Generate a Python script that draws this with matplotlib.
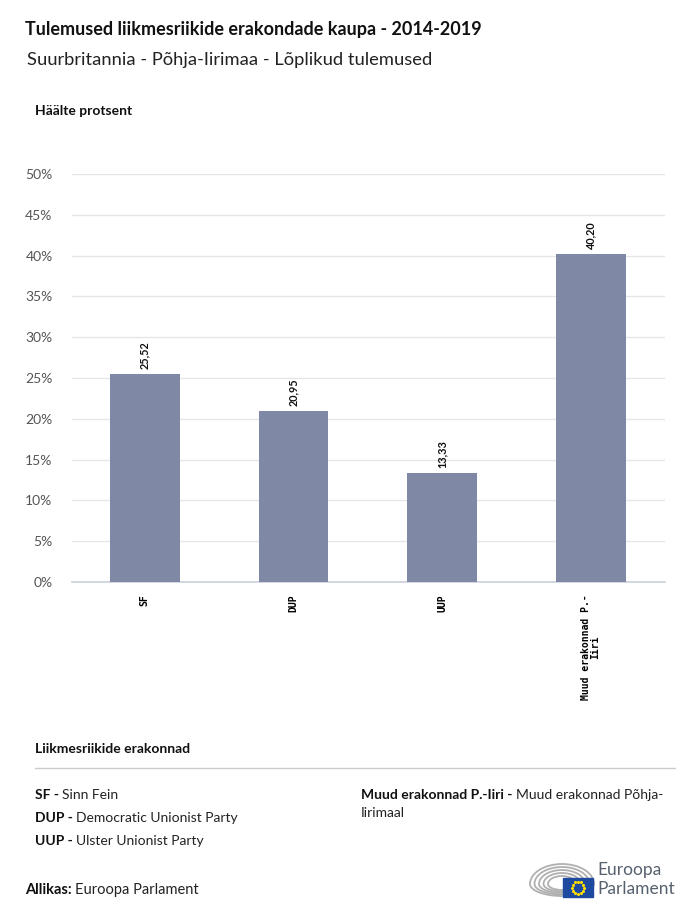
import matplotlib
matplotlib.use('Agg')
import matplotlib.pyplot as plt
from matplotlib.patches import Rectangle, Arc
import numpy as np

parties = ['SF', 'DUP', 'UUP', 'Muud erakonnad P.-\nIiri']
values = [25.52, 20.95, 13.33, 40.20]
value_labels = ['25,52', '20,95', '13,33', '40,20']
y_ticks = [0, 5, 10, 15, 20, 25, 30, 35, 40, 45, 50]

legend_left = [('SF - ', 'Sinn Fein'),
               ('DUP - ', 'Democratic Unionist Party'),
               ('UUP - ', 'Ulster Unionist Party')]
legend_right = [('Muud erakonnad P.-Iiri - ', 'Muud erakonnad Põhja-\nIirimaal')]

FONT = 'Lato'
BAR_COLOR = '#7f88a4'
W, H = 700, 916

fig = plt.figure(figsize=(W / 100, H / 100), dpi=100)
ax = fig.add_axes([72 / W, 1 - 582 / H, (665 - 72) / W, (582 - 174) / H])

x = np.arange(len(parties))
ax.bar(x, values, width=0.47, color=BAR_COLOR, zorder=3)
ax.set_xlim(-0.49, 3.5)
ax.set_ylim(0, 50)
ax.set_yticks(y_ticks)
ax.set_yticklabels([f'{t}%' for t in y_ticks], fontsize=10, color='#555555', family=FONT)
ax.set_xticks(x)
ax.set_xticklabels(parties, rotation=90, fontsize=7, family='DejaVu Sans Mono',
                   fontweight='bold', va='top', ha='center', linespacing=0.9)
ax.tick_params(axis='both', length=0)
ax.tick_params(axis='y', pad=14)
ax.tick_params(axis='x', pad=9)
ax.grid(axis='y', color='#e6e6e6', linewidth=1, zorder=0)
for s in ['top', 'right', 'left']:
    ax.spines[s].set_visible(False)
ax.spines['bottom'].set_color('#c9cfdb')
ax.spines['bottom'].set_linewidth(1.2)

for xi, v, lbl in zip(x, values, value_labels):
    ax.annotate(lbl, (xi, v), xytext=(0, 3.5), textcoords='offset points',
                rotation=90, ha='center', va='bottom', fontsize=7.8,
                fontweight='bold', family=FONT, color='#111111')

def fy(py):
    return 1 - py / H

fig.text(25 / W, fy(30), 'Tulemused liikmesriikide erakondade kaupa - 2014-2019',
         fontsize=13, fontweight='bold', family=FONT, va='center', color='#111111')
fig.text(27 / W, fy(60), 'Suurbritannia - Põhja-Iirimaa - Lõplikud tulemused',
         fontsize=13.2, family=FONT, va='center', color='#222222')
fig.text(35 / W, fy(111), 'Häälte protsent', fontsize=10, fontweight='bold',
         family=FONT, va='center', color='#111111')

fig.text(35 / W, fy(749), 'Liikmesriikide erakonnad', fontsize=10, fontweight='bold',
         family=FONT, va='center', color='#111111')
fig.add_artist(plt.Line2D([35 / W, 675 / W], [fy(768), fy(768)], color='#cccccc', linewidth=1))

renderer = fig.canvas.get_renderer()

def rich(px, py, bold, normal, size=10):
    t = fig.text(px / W, fy(py), bold, fontsize=size, fontweight='bold', family=FONT,
                 va='baseline', color='#111111')
    bb = t.get_window_extent(renderer=renderer)
    fig.text(bb.x1 / W, fy(py), normal, fontsize=size, family=FONT, va='baseline',
             color='#222222')

for i, (b, n) in enumerate(legend_left):
    rich(35, 799 + i * 23, b, n)
b, n = legend_right[0]
t = fig.text(361 / W, fy(799), b, fontsize=10, fontweight='bold', family=FONT,
             va='baseline', color='#111111')
bb = t.get_window_extent(renderer=renderer)
first, second = n.split('\n')
fig.text(bb.x1 / W, fy(799), first, fontsize=10, family=FONT, va='baseline', color='#222222')
fig.text(361 / W, fy(817), second, fontsize=10, family=FONT, va='baseline', color='#222222')

rich(25, 894, 'Allikas: ', 'Euroopa Parlament', size=10.5)

# logo
lax = fig.add_axes([528 / W, 1 - 900 / H, 150 / W, 44 / H])
lax.set_xlim(0, 150)
lax.set_ylim(0, 44)
lax.axis('off')
for r in range(5):
    lax.add_patch(Arc((34, 16), 64 - r * 9, 40 - r * 6, theta1=0, theta2=180,
                      color='#b0b0b0', lw=1.3))
    lax.add_patch(Arc((34, 16), 64 - r * 9, 24 - r * 3, theta1=180, theta2=360,
                      color='#b0b0b0', lw=1.3))
lax.add_patch(Rectangle((35, 3), 30, 19, color='#1d4aa0', zorder=3))
ang = np.linspace(0, 2 * np.pi, 12, endpoint=False)
lax.scatter(50 + 6 * np.cos(ang), 12.5 + 6 * np.sin(ang), s=1.5, color='#ffdd00', zorder=4)
lax.text(69, 30, 'Euroopa', fontsize=12.5, family=FONT, color='#56606e', va='center')
lax.text(69, 11, 'Parlament', fontsize=12.5, family=FONT, color='#56606e', va='center')

fig.savefig('out.png', dpi=100, facecolor='white')
